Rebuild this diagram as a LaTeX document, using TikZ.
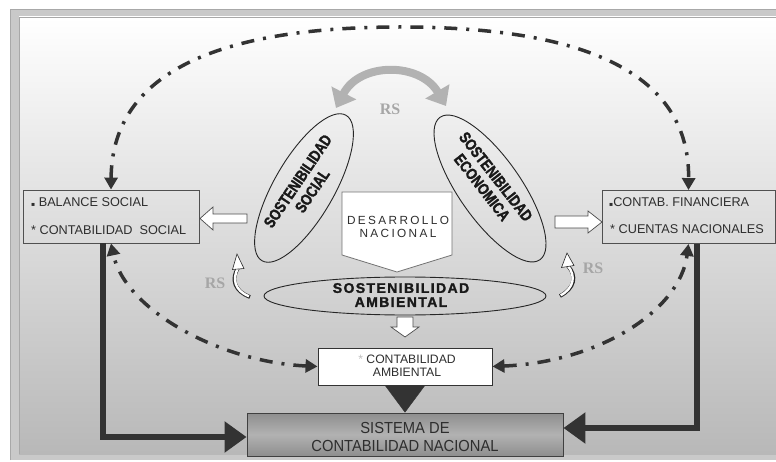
\documentclass[tikz,border=0pt]{standalone}
\usepackage{fontspec}
\setmainfont{Liberation Sans}
\newfontfamily\rsfont{Liberation Serif}
\newfontfamily\dvs{DejaVu Sans}
\newfontfamily\spacedfont{Liberation Sans}[LetterSpace=20]
\newfontfamily\heavywide{Liberation Sans Bold}[FakeBold=1.6, LetterSpace=10]
\newfontfamily\heavycond{Liberation Sans Bold}[FakeBold=1.6, FakeStretch=0.8]
\newfontfamily\narrowfont{Liberation Sans}[FakeStretch=0.92]
\usetikzlibrary{arrows.meta,shapes.geometric}
\definecolor{bgbot}{HTML}{B8B8B8}
\definecolor{framegray}{HTML}{C9C9C9}
\definecolor{frameline}{HTML}{A8A8A8}
\definecolor{darkline}{HTML}{333333}
\definecolor{rsgray}{HTML}{A6A6A6}
\definecolor{arcgray}{HTML}{B2B2B2}
\definecolor{txt}{HTML}{2E2E2E}
\definecolor{boxborder}{HTML}{505050}
\definecolor{sysmid}{HTML}{B2B2B2}
\definecolor{sysedge}{HTML}{8E8E8E}
\begin{document}
\begin{tikzpicture}[x=1pt,y=-1pt,
  box/.style={draw=boxborder, line width=0.9pt, inner sep=0pt},
  boxtext/.style={font=\fontsize{12.7}{14}\selectfont, text=txt, inner sep=0pt},
  ell/.style={ellipse, draw=black!85, line width=0.9pt, inner sep=0pt},
  elltext/.style={font=\heavycond\fontsize{16}{17.5}\selectfont, align=center, inner sep=0pt, text=black!90},
  heavy/.style={draw=darkline, line width=6pt, line join=miter, -{Triangle[length=22pt,width=30pt]}},
  dashdot/.style={draw=darkline, line width=3.5pt, dash pattern=on 13pt off 9pt on 3pt off 9pt,
     {Triangle[length=12pt,width=13pt]}-{Triangle[length=12pt,width=13pt]}},
  blockarrow/.style={draw=black!70, fill=white, line width=0.7pt, line join=miter},
  rstext/.style={font=\rsfont\bfseries\fontsize{16}{16}\selectfont, text=rsgray, inner sep=0pt},
  curly/.style={draw=black!85, line width=3.8pt},
  curlyin/.style={draw=white, line width=2.4pt}
]
\useasboundingbox (0,0) rectangle (776,462);
% background and frame
\fill[white] (0,0) rectangle (776,462);
\fill[framegray] (10,9) rectangle (776,460);
\draw[frameline, line width=0.8pt] (10.4,460) -- (10.4,9.4) -- (776,9.4);
\shade[top color=white, bottom color=bgbot] (19,17) rectangle (776,454);
\draw[frameline, line width=0.6pt] (19,454) -- (19,17) -- (776,17);

% boxes
\node[box, minimum width=176pt, minimum height=53pt] (lb) at (111,216.5) {};
\node[boxtext, anchor=base west] (lb1) at (31,206.5) {{\dvs\fontsize{6}{6}\selectfont ▪} BALANCE SOCIAL};
\node[boxtext, anchor=base west] (lb2) at (31,234.5) {* CONTABILIDAD\ \ SOCIAL};

\node[box, minimum width=173pt, minimum height=53pt] (rb) at (688.5,217) {};
\node[boxtext, anchor=base west] (rb1) at (609,206.5) {{\dvs\fontsize{6}{6}\selectfont ▪}CONTAB. FINANCIERA};
\node[boxtext, anchor=base west] (rb2) at (610,234) {* CUENTAS NACIONALES};

\node[box, draw=black!80, fill=white, minimum width=174pt, minimum height=37pt] (ca) at (405,366.5) {};
\node[boxtext, font=\fontsize{12.2}{13}\selectfont, align=center] (ca1) at (407,366) {{\color{black!25}*} CONTABILIDAD\\AMBIENTAL};

\shade[top color=sysedge, bottom color=sysedge, middle color=sysmid] (247,413) rectangle (563,456);
\node[box, draw=black!75, minimum width=316pt, minimum height=43pt] (sys) at (405,434.5) {};
\node[font=\narrowfont\fontsize{16}{18}\selectfont, text=txt, align=center, inner sep=0pt] (sys1) at (405,437) {SISTEMA DE\\CONTABILIDAD NACIONAL};

% desarrollo nacional
\draw[fill=white, draw=black!55, line width=0.8pt] (342,192) -- (452,192) -- (452,255) -- (397,272) -- (342,255) -- cycle;
\node[font=\spacedfont\fontsize{11.8}{13.5}\selectfont, text=txt, align=center, inner sep=0pt] (dn) at (398,227) {DESARROLLO\\NACIONAL};

% ellipses
\node[ell, minimum width=168pt, minimum height=60pt, rotate=60] (es) at (304,188) {};
\node[elltext, rotate=56] (est) at (305,186) {SOSTENIBILIDAD\\SOCIAL};
\node[ell, minimum width=174pt, minimum height=62pt, rotate=-55] (ee) at (490,188.5) {};
\node[elltext, rotate=-52] (eet) at (489,182) {SOSTENIBILIDAD\\ECONOMICA};
\node[ell, minimum width=282pt, minimum height=38pt] (ea) at (405,296) {};
\node[elltext, font=\heavywide\fontsize{14}{14}\selectfont] (eat) at (401,295) {SOSTENIBILIDAD\\AMBIENTAL};

% white block arrows
\draw[blockarrow] (247,214) -- (213,214) -- (213,207) -- (200,218.5) -- (213,230) -- (213,223) -- (247,223) -- cycle;
\draw[blockarrow] (555,216) -- (588,216) -- (588,211) -- (602,222) -- (588,233) -- (588,228) -- (555,228) -- cycle;
\draw[blockarrow] (397,317) -- (413,317) -- (413,327) -- (419,327) -- (405,337) -- (391,327) -- (397,327) -- cycle;

% gray RS double arrow
\coordinate (rsa) at (336,108);
\coordinate (rsb) at (446,106);
\draw[arcgray, line width=8pt, {Triangle[length=17pt,width=27pt]}-{Triangle[length=17pt,width=27pt]}]
  (rsa) .. controls (360,62) and (420,62) .. (rsb);
\node[rstext] (rs1) at (390,109) {RS};
\node[rstext] (rs2) at (215,283) {RS};
\node[rstext] (rs3) at (593,268) {RS};

% small curly arrows
\draw[curly] (250,297) .. controls (234,291) and (231,279) .. (238,268);
\draw[curlyin] (249,296.3) .. controls (234.5,290.5) and (232,279) .. (238,268);
\draw[fill=white, draw=black!85, line width=0.6pt] (232.5,269.5) -- (237,254) -- (244,268.5) -- cycle;
\draw[curly] (560,296) .. controls (575,288) and (577,276) .. (568,266);
\draw[curlyin] (560.7,295.3) .. controls (574,288) and (576,276) .. (568,266);
\draw[fill=white, draw=black!85, line width=0.6pt] (561.5,267.5) -- (567,253) -- (574,265.5) -- cycle;

% dash-dot connectors
\draw[dashdot] (lb.north) .. controls (112,60) and (245,27) .. (401,27) .. controls (557,27) and (690,60) .. (rb.north);
\draw[dashdot] (ca.west) .. controls (220,362) and (125,310) .. (lb.south);
\draw[dashdot] (ca.east) .. controls (600,362) and (680,310) .. (rb.south);

% heavy connectors
\draw[heavy] ([xshift=-8pt]lb.south) |- ([yshift=-2.5pt]sys.west);
\draw[heavy] ([xshift=8.5pt]rb.south) |- ([yshift=6.5pt]sys.east);
\draw[darkline, line width=0.4pt, -{Triangle[length=27pt,width=40pt]}] (ca.south) -- (sys.north);
\end{tikzpicture}
\end{document}
